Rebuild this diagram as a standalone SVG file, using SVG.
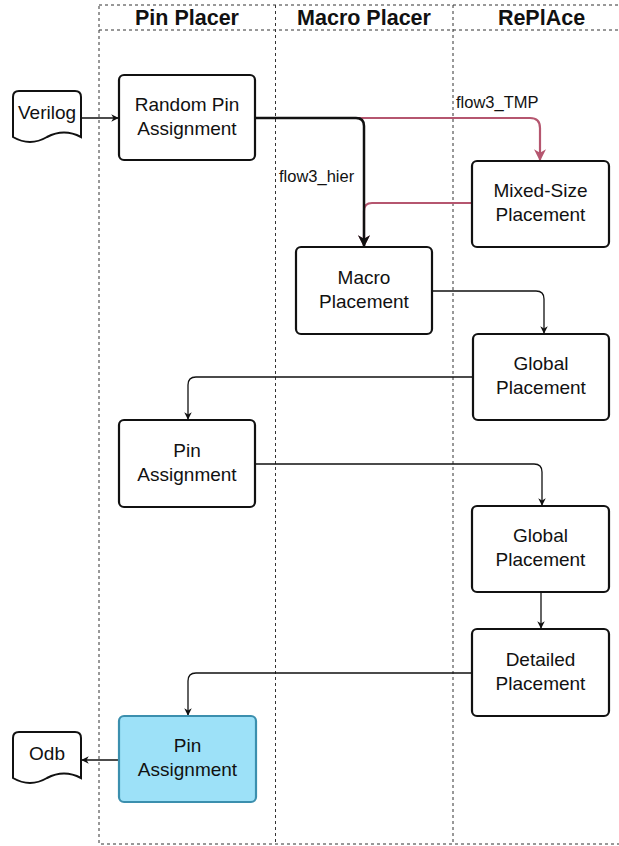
<svg xmlns="http://www.w3.org/2000/svg" width="619" height="846" viewBox="0 0 619 846">
<style>
.lane{fill:none;stroke:#333;stroke-width:1;stroke-dasharray:3 3}
.hdr{font-family:"Liberation Sans",Arial,sans-serif;font-weight:bold;font-size:21.5px;fill:#111;text-anchor:middle}
.box{fill:#fff;stroke:#111;stroke-width:2.2}
.blue{fill:#9de1f8;stroke:#3b8fae;stroke-width:2.2}
.doc{fill:#fff;stroke:#111;stroke-width:2}
.t{font-family:"Liberation Sans",Arial,sans-serif;font-size:19px;fill:#111;text-anchor:middle}
.lbl{font-family:"Liberation Sans",Arial,sans-serif;font-size:16.5px;fill:#111}
.e{fill:none;stroke:#111;stroke-width:1.3}
.ek{fill:none;stroke:#111;stroke-width:2.5}
.ep{fill:none;stroke:#b5566f;stroke-width:2.2}
</style>
<defs>
<marker id="a" viewBox="0 0 10 10" refX="9" refY="5" markerWidth="7.5" markerHeight="7.5" markerUnits="userSpaceOnUse" orient="auto"><path d="M0,0 L10,5 L0,10 L3,5 Z" fill="#111"/></marker>
<marker id="ak" viewBox="0 0 10 10" refX="9" refY="5" markerWidth="12" markerHeight="12" markerUnits="userSpaceOnUse" orient="auto"><path d="M0,0 L10,5 L0,10 L3,5 Z" fill="#111"/></marker>
<marker id="ap" viewBox="0 0 10 10" refX="9" refY="5" markerWidth="12" markerHeight="12" markerUnits="userSpaceOnUse" orient="auto"><path d="M0,0 L10,5 L0,10 L3,5 Z" fill="#b5566f"/></marker>
</defs>
<g id="swimlanes">
<rect class="lane" x="99" y="5" width="531" height="839"/>
<line class="lane" x1="99" y1="30" x2="630" y2="30"/>
<line class="lane" x1="275.5" y1="5" x2="275.5" y2="844"/>
<line class="lane" x1="453" y1="5" x2="453" y2="844"/>
<text class="hdr" x="187" y="25">Pin Placer</text>
<text class="hdr" x="364" y="25">Macro Placer</text>
<text class="hdr" x="541.5" y="25">RePlAce</text>
</g>
<g id="connectors">
<path class="e" d="M81,118 L118,118" marker-end="url(#a)"/>
<path class="ep" d="M255,118 L530,118 Q540,118 540,128 L540,160" marker-end="url(#ap)"/>
<path class="ep" d="M472,203 L372,203 Q364,203 364,211 L364,246" marker-end="url(#ap)"/>
<path class="ek" d="M255,118 L356,118 Q364,118 364,126 L364,246" marker-end="url(#ak)"/>
<path class="e" d="M432,291 L536,291 Q544,291 544,299 L544,333" marker-end="url(#a)"/>
<path class="e" d="M473,377 L196,377 Q188,377 188,385 L188,419" marker-end="url(#a)"/>
<path class="e" d="M255,464 L534,464 Q542,464 542,472 L542,505" marker-end="url(#a)"/>
<path class="e" d="M541,592 L541,628" marker-end="url(#a)"/>
<path class="e" d="M472,673 L196,673 Q188,673 188,681 L188,715" marker-end="url(#a)"/>
<path class="e" d="M119,760 L82,760" marker-end="url(#a)"/>
<text class="lbl" x="456" y="108">flow3_TMP</text>
<text class="lbl" x="279" y="182">flow3_hier</text>
</g>
<g id="verilog">
<path class="doc" d="M13,97 Q13,91 19,91 L75,91 Q81,91 81,97 L81,137 Q64,128 47,137 Q30,147 13,137 Z"/>
<text class="t" x="47" y="119">Verilog</text>
</g>
<g id="random-pin">
<rect class="box" x="119" y="75" width="136" height="85" rx="5"/>
<text class="t" x="187" y="110.5">Random Pin</text>
<text class="t" x="187" y="134.5">Assignment</text>
</g>
<g id="mixed-size">
<rect class="box" x="472" y="161" width="137" height="86" rx="5"/>
<text class="t" x="540.5" y="197">Mixed-Size</text>
<text class="t" x="540.5" y="221">Placement</text>
</g>
<g id="macro">
<rect class="box" x="296" y="247" width="136" height="87" rx="5"/>
<text class="t" x="364" y="283.5">Macro</text>
<text class="t" x="364" y="307.5">Placement</text>
</g>
<g id="global1">
<rect class="box" x="473" y="334" width="136" height="86" rx="5"/>
<text class="t" x="541" y="370">Global</text>
<text class="t" x="541" y="394">Placement</text>
</g>
<g id="pin1">
<rect class="box" x="119" y="420" width="136" height="87" rx="5"/>
<text class="t" x="187" y="456.5">Pin</text>
<text class="t" x="187" y="480.5">Assignment</text>
</g>
<g id="global2">
<rect class="box" x="472" y="506" width="137" height="86" rx="5"/>
<text class="t" x="540.5" y="542">Global</text>
<text class="t" x="540.5" y="566">Placement</text>
</g>
<g id="detailed">
<rect class="box" x="472" y="629" width="137" height="87" rx="5"/>
<text class="t" x="540.5" y="665.5">Detailed</text>
<text class="t" x="540.5" y="689.5">Placement</text>
</g>
<g id="pin2">
<rect class="blue" x="119" y="716" width="137" height="86" rx="5"/>
<text class="t" x="187.5" y="752">Pin</text>
<text class="t" x="187.5" y="776">Assignment</text>
</g>
<g id="odb">
<path class="doc" d="M13,738 Q13,732 19,732 L75,732 Q81,732 81,738 L81,778 Q64,769 47,778 Q30,788 13,778 Z"/>
<text class="t" x="47" y="760">Odb</text>
</g>
</svg>
